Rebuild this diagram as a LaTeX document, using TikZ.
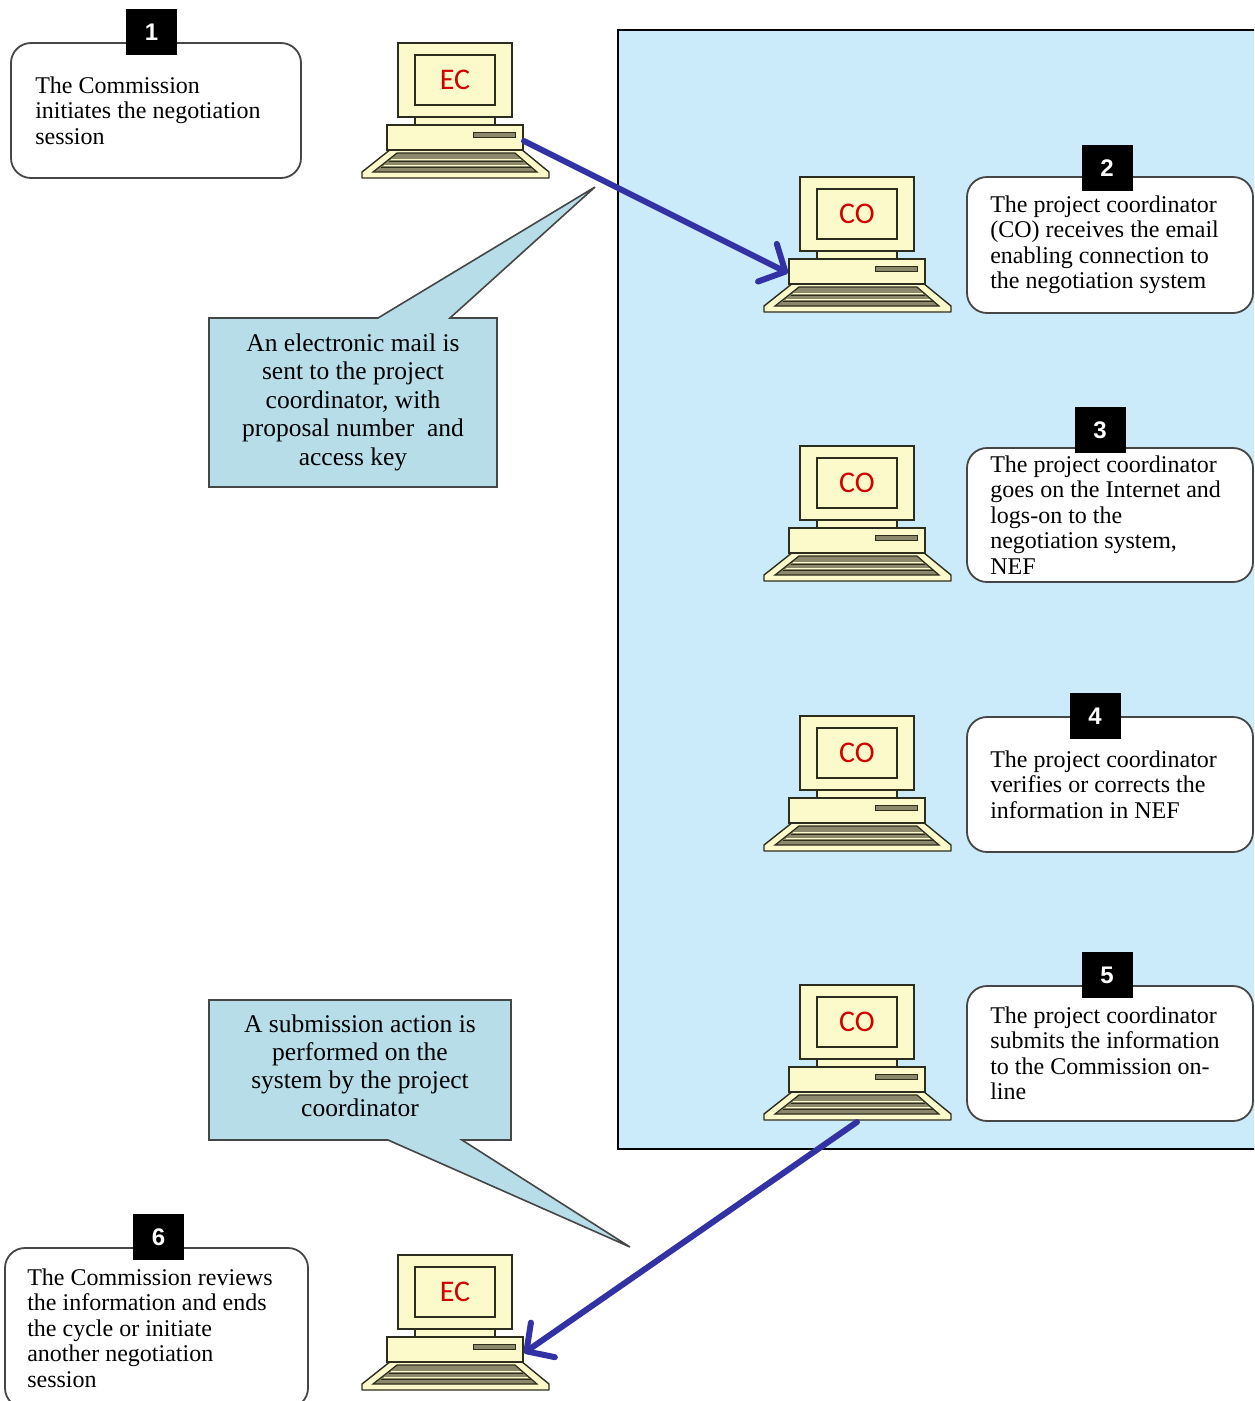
\documentclass[tikz,border=0pt]{standalone}
\usepackage{fontspec}
\setmainfont{Liberation Serif}
\newfontfamily\tagfont{Liberation Sans}
\newfontfamily\labfont{Carlito}
\usetikzlibrary{arrows.meta}
\definecolor{panelblue}{RGB}{204,235,250}
\definecolor{callfill}{RGB}{183,221,232}
\definecolor{cream}{RGB}{252,250,202}
\definecolor{outl}{RGB}{45,45,30}
\definecolor{kbgray}{RGB}{140,136,108}
\definecolor{arrowblue}{RGB}{50,50,165}
\definecolor{ecred}{RGB}{210,0,0}
\definecolor{boxline}{RGB}{70,70,70}
\tikzset{
  pics/computer/.style={code={
    % keyboard
    \draw[outl, fill=cream, line width=1.4pt, line join=round] (29,106) -- (159,106) -- (187,129) -- (187,135) -- (0,135) -- (0,129) -- cycle;
    \draw[outl, fill=kbgray, line width=1.2pt] (35,110) -- (153,110) -- (175,129) -- (11,129) -- cycle;
    \draw[cream, line width=1.6pt] (29,116.5) -- (159,116.5);
    \draw[cream, line width=1.6pt] (22,122.5) -- (166,122.5);
    \draw[outl, line width=1.2pt] (27,118.5) -- (161,118.5);
    \draw[outl, line width=1.2pt] (19,124.5) -- (169,124.5);
    % base
    \draw[outl, fill=cream, line width=1.4pt] (25,82) rectangle (161,107);
    \draw[outl, fill=kbgray, line width=1pt] (111,89) rectangle (153,94);
    % neck
    \draw[outl, fill=cream, line width=1.4pt] (53,74) rectangle (133,82);
    % monitor
    \draw[outl, fill=cream, line width=1.4pt] (36,0) rectangle (150,74);
    \draw[outl, fill=cream, line width=1.8pt] (53,12) rectangle (133,62);
    \node[complabel] (-label) at (93,37) {#1};
    \coordinate (-e) at (162,98);
    \coordinate (-w) at (24,96);
    \coordinate (-s) at (93,137);
  }},
  complabel/.style={text=ecred, font=\labfont\fontsize{30}{30}\selectfont, inner sep=0pt},
  infobox/.style={draw=boxline, line width=1.8pt, rounded corners=20pt, fill=white, inner sep=0pt},
  boxtext/.style={anchor=west, align=left, inner sep=0pt, font=\fontsize{24}{25.5}\selectfont},
  tagbox/.style={fill=black, text=white, inner sep=0pt, minimum width=51pt, minimum height=46pt,
    font=\tagfont\bfseries\fontsize{24}{24}\selectfont},
  callout/.style={draw=boxline, line width=1.6pt, fill=callfill, line join=miter},
  calltext/.style={align=center, inner sep=0pt, font=\fontsize{25.5}{28.5}\selectfont},
  panelbox/.style={draw=black, line width=1.5pt, fill=panelblue, inner sep=0pt},
  flowarrow/.style={draw=arrowblue, line width=6pt, line cap=round,
    -{Straight Barb[length=20pt, width=42pt, round]}},
}
\begin{document}
\begin{tikzpicture}[x=1pt, y=-1pt]
\useasboundingbox (0,0) rectangle (1254,1401);
\clip (0,0) rectangle (1254,1401);
\fill[white] (0,0) rectangle (1254,1401);

% blue panel
\node[panelbox, anchor=north west, minimum width=650pt, minimum height=1119pt] (panel) at (617,29) {};

% callout 1
\coordinate (tip1) at (595,187);
\draw[callout] (209,318) -- (378,318) -- (tip1) -- (450,318) -- (497,318) -- (497,487) -- (209,487) -- cycle;
\node[calltext] (c1) at (353,402) {An electronic mail is\\sent to the project\\coordinator, with\\proposal number~ and\\access key};

% callout 2
\coordinate (tip2) at (630,1247);
\draw[callout] (209,1000) -- (511,1000) -- (511,1140) -- (462,1140) -- (tip2) -- (388,1140) -- (209,1140) -- cycle;
\node[calltext, font=\fontsize{25.5}{28}\selectfont] (c2) at (360,1066) {A submission action is\\performed on the\\system by the project\\coordinator};

% boxes
\node[infobox, minimum width=290pt, minimum height=135pt] (box1) at (156,110.5) {};
\node[boxtext] (t1) at ([xshift=25pt]box1.west) {The Commission\\initiates the negotiation\\session};
\node[tagbox] (tag1) at (151.5,32) {1};

\node[infobox, minimum width=286pt, minimum height=136pt] (box2) at (1110,245) {};
\node[boxtext] (t2) at ([xshift=24pt]box2.west) {The project coordinator\\(CO) receives the email\\enabling connection to\\the negotiation system};
\node[tagbox] (tag2) at (1107,168) {2};

\node[infobox, minimum width=286pt, minimum height=134pt] (box3) at (1110,515) {};
\node[boxtext] (t3) at ([xshift=24pt]box3.west) {The project coordinator\\goes on the Internet and\\logs-on to the\\negotiation system,\\NEF};
\node[tagbox] (tag3) at (1100,430) {3};

\node[infobox, minimum width=286pt, minimum height=135pt] (box4) at (1110,784.5) {};
\node[boxtext] (t4) at ([xshift=24pt]box4.west) {The project coordinator\\verifies or corrects the\\information in NEF};
\node[tagbox] (tag4) at (1095,716) {4};

\node[infobox, minimum width=286pt, minimum height=135pt] (box5) at (1110,1053.5) {};
\node[boxtext] (t5) at ([xshift=24pt]box5.west) {The project coordinator\\submits the information\\to the Commission on-\\line};
\node[tagbox] (tag5) at (1107,975) {5};

\node[infobox, minimum width=303pt, minimum height=160pt] (box6) at (156.5,1328) {};
\node[boxtext] (t6) at ([xshift=23pt]box6.west) {The Commission reviews\\the information and ends\\the cycle or initiate\\another negotiation\\session};
\node[tagbox] (tag6) at (158.5,1237) {6};

% computers
\pic (ec1) at (362,43) {computer=EC};
\pic (co1) at (764,177) {computer=CO};
\pic (co2) at (764,446) {computer=CO};
\pic (co3) at (764,716) {computer=CO};
\pic (co4) at (764,985) {computer=CO};
\pic (ec2) at (362,1255) {computer=EC};

% arrows
\draw[flowarrow] (ec1-e) -- (co1-w);
\draw[flowarrow] (co4-s) -- (ec2-e);
\end{tikzpicture}
\end{document}
